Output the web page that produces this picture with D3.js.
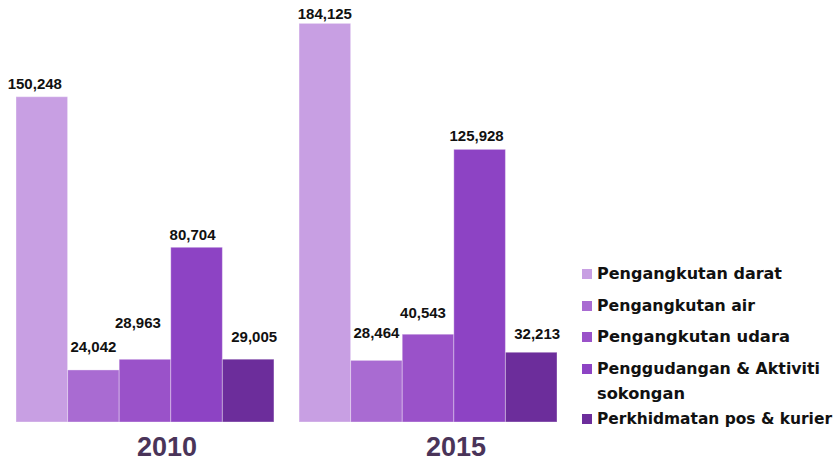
<!DOCTYPE html>
<html><head><meta charset="utf-8">
<script src="https://cdn.jsdelivr.net/npm/d3@7"></script>
<style>html,body{margin:0;padding:0;background:#fff;}svg{display:block;}</style>
</head><body>
<svg id="chart" width="835" height="461"></svg>
<script>
const years = ["2010", "2015"];
const categories = ["Pengangkutan darat", "Pengangkutan air", "Pengangkutan udara", "Penggudangan & Aktiviti sokongan", "Perkhidmatan pos & kurier"];
const values2010 = [150248, 24042, 28963, 80704, 29005];
const values2015 = [184125, 28464, 40543, 125928, 32213];
const colors = ["#c89fe3", "#a96bd2", "#9a52c9", "#8d43c4", "#6c2d9b"];
const legendLines = [["Pengangkutan darat"], ["Pengangkutan air"], ["Pengangkutan udara"], ["Penggudangan & Aktiviti", "sokongan"], ["Perkhidmatan pos & kurier"]];
// styling: legend line widths (px) to match the reference typeface
const legendWidths = [[185], [158], [193], [223, 88], [235]];
// manual label nudges (px) [dx, gap above bar]
const labelNudge2010 = [[-7, 8], [0, 18], [-7, 31], [-4, 7], [6, 17]];
const labelNudge2015 = [[0, 4], [0, 22], [-5, 16], [-3, 8], [6, 13]];
const yearNudge = [22, 28];

const series = { "2010": values2010, "2015": values2015 };
const nudges = { "2010": labelNudge2010, "2015": labelNudge2015 };
const svg = d3.select("#chart");
const fmt = d3.format(",");

const x0 = d3.scaleBand().domain(years).range([16, 557]).paddingInner(0.0887).paddingOuter(0);
const x1 = d3.scaleBand().domain(categories).range([0, x0.bandwidth()]);
const y = d3.scaleLinear().domain([0, 200000]).range([422, -11]);
const color = d3.scaleOrdinal().domain(categories).range(colors);

const groups = svg.selectAll("g.year").data(years).join("g")
  .attr("class", "year")
  .attr("transform", d => `translate(${x0(d)},0)`);

groups.selectAll("rect").data(yr => categories.map((c, i) => ({ c, v: series[yr][i] })))
  .join("rect")
  .attr("x", d => x1(d.c))
  .attr("y", d => y(d.v))
  .attr("width", x1.bandwidth())
  .attr("height", d => y(0) - y(d.v))
  .attr("fill", d => color(d.c))
  .attr("stroke", "rgba(255,255,255,0.35)")
  .attr("stroke-width", 1);

groups.selectAll("text.val").data(yr => categories.map((c, i) => ({ c, v: series[yr][i], n: nudges[yr][i] })))
  .join("text")
  .attr("class", "val")
  .attr("x", d => x1(d.c) + x1.bandwidth() / 2 + d.n[0])
  .attr("y", d => y(d.v) - d.n[1])
  .attr("text-anchor", "middle")
  .attr("font-family", "'Liberation Sans', Arial, sans-serif")
  .attr("font-weight", "bold")
  .attr("font-size", 15)
  .attr("fill", "#111")
  .text(d => fmt(d.v));

groups.append("text")
  .attr("x", (d, i) => x0.bandwidth() / 2 + yearNudge[i])
  .attr("y", 456)
  .attr("text-anchor", "middle")
  .attr("font-family", "'Liberation Sans', Arial, sans-serif")
  .attr("font-weight", "bold")
  .attr("font-size", 27)
  .attr("fill", "#4a3459")
  .text(d => d);

// legend
const legendBase = [279, 311, 342, 374, 424];
const legend = svg.append("g");
categories.forEach((c, i) => {
  const g = legend.append("g");
  g.append("rect").attr("x", 582).attr("y", legendBase[i] - 10).attr("width", 10).attr("height", 10)
    .attr("fill", color(c));
  const t = g.append("text").attr("x", 597).attr("y", legendBase[i])
    .attr("font-family", "'DejaVu Sans', sans-serif")
    .attr("font-weight", "bold")
    .attr("font-size", 15.5)
    .attr("fill", "#111");
  legendLines[i].forEach((line, j) => {
    t.append("tspan").attr("x", 597).attr("dy", j === 0 ? 0 : 24.5)
      .attr("textLength", legendWidths[i][j])
      .attr("lengthAdjust", "spacingAndGlyphs")
      .text(line);
  });
});
</script>
</body></html>
